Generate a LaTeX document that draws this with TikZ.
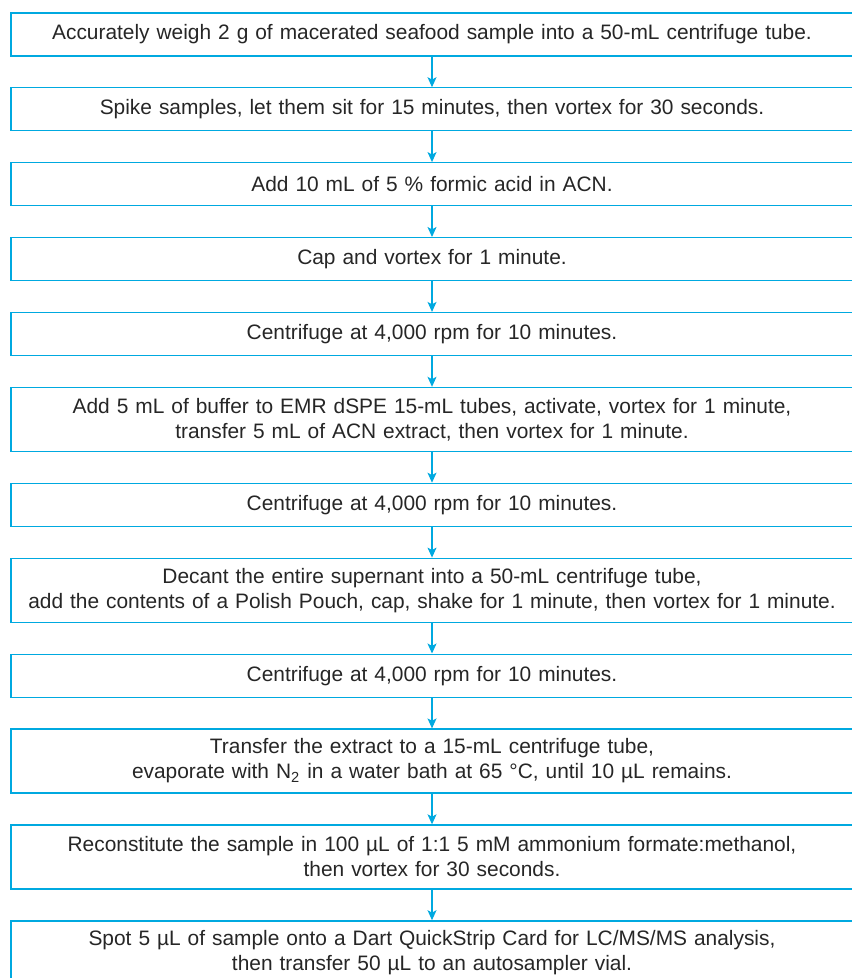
\documentclass[tikz,border=0pt]{standalone}
\usepackage{fontspec}
\setmainfont{Liberation Sans}
\usetikzlibrary{positioning,arrows.meta}
\definecolor{agblue}{RGB}{0,169,224}
\definecolor{txtgray}{RGB}{38,38,38}

\begin{document}
\begin{tikzpicture}[
  stage/.style={draw=agblue, line width=0.65pt, minimum width=421pt, minimum height=21.5pt,
    inner sep=0pt, text width=420pt, align=center, text=txtgray,
    font=\fontsize{10.45}{12.5}\selectfont},
  stagetwo/.style={stage, minimum height=32pt},
  >={Stealth[length=5pt,width=4.5pt,inset=1.2pt]}, node distance=15.3pt
]
  \useasboundingbox (0,0) rectangle (425.5pt,-489pt);

  \node[stage, anchor=north] (weigh) at (216pt,-6.15pt)
    {Accurately weigh 2 g of macerated seafood sample into a 50-mL centrifuge tube.};
  \node[stage, below=of weigh] (spike)
    {Spike samples, let them sit for 15 minutes, then vortex for 30 seconds.};
  \node[stage, below=of spike] (acid) {Add 10 mL of 5 \% formic acid in ACN.};
  \node[stage, below=of acid] (capvortex) {Cap and vortex for 1 minute.};
  \node[stage, below=of capvortex] (spinA) {Centrifuge at 4,000 rpm for 10 minutes.};
  \node[stagetwo, below=of spinA] (emr)
    {Add 5 mL of buffer to EMR dSPE 15-mL tubes, activate, vortex for 1 minute,\\
     transfer 5 mL of ACN extract, then vortex for 1 minute.};
  \node[stage, below=of emr] (spinB) {Centrifuge at 4,000 rpm for 10 minutes.};
  \node[stagetwo, below=of spinB] (decant)
    {Decant the entire supernant into a 50-mL centrifuge tube,\\
     add the contents of a Polish Pouch, cap, shake for 1 minute, then vortex for 1 minute.};
  \node[stage, below=of decant] (spinC) {Centrifuge at 4,000 rpm for 10 minutes.};
  \node[stagetwo, below=of spinC] (evap)
    {Transfer the extract to a 15-mL centrifuge tube,\\
     evaporate with N\textsubscript{2} in a water bath at 65 °C, until 10 µL remains.};
  \node[stagetwo, below=of evap] (recon)
    {Reconstitute the sample in 100 µL of 1:1 5 mM ammonium formate:methanol,\\
     then vortex for 30 seconds.};
  \node[stagetwo, below=of recon] (spot)
    {Spot 5 µL of sample onto a Dart QuickStrip Card for LC/MS/MS analysis,\\
     then transfer 50 µL to an autosampler vial.};

  \foreach \from/\to in {weigh/spike, spike/acid, acid/capvortex, capvortex/spinA,
      spinA/emr, emr/spinB, spinB/decant, decant/spinC, spinC/evap, evap/recon, recon/spot}
    \draw[->, agblue, line width=0.6pt] (\from) -- (\to);
\end{tikzpicture}
\end{document}
